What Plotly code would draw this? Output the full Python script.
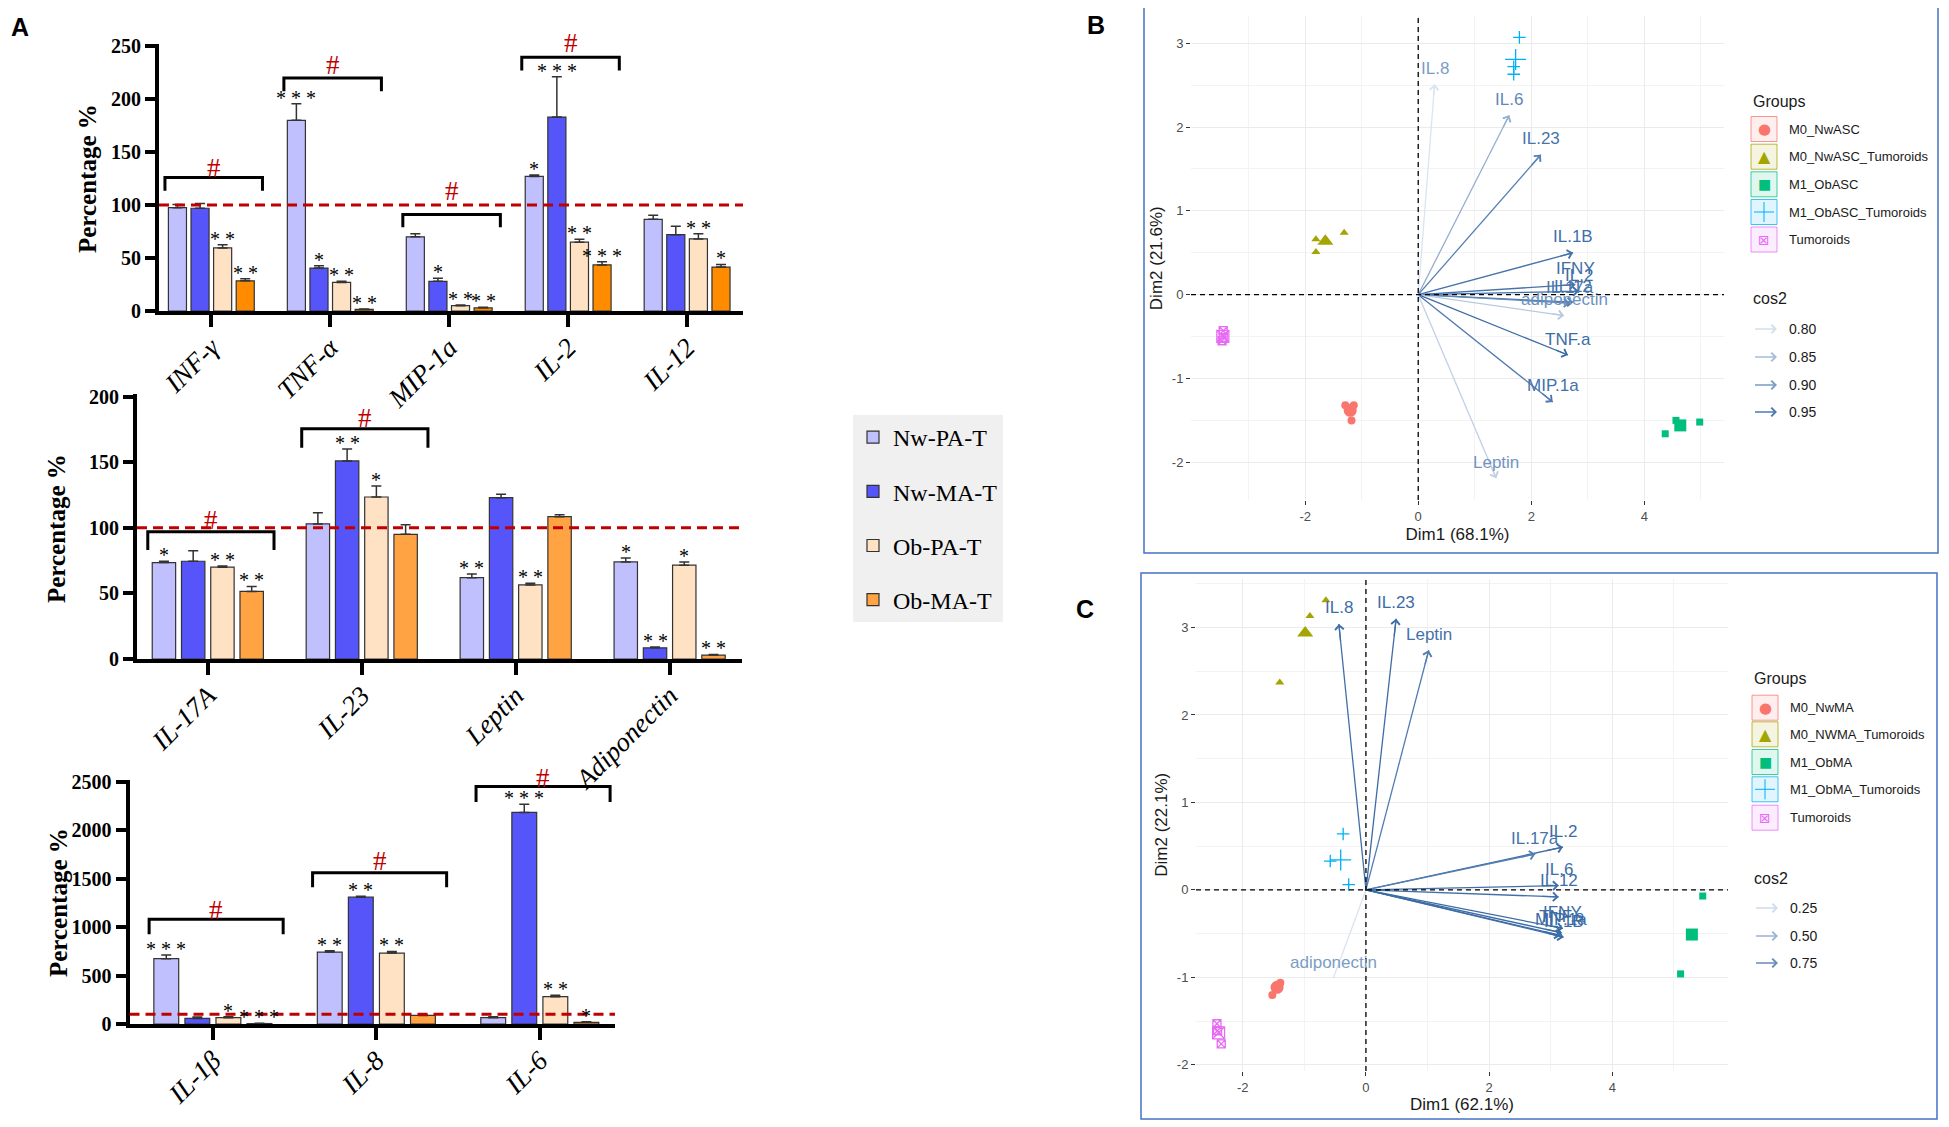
import numpy as np
import plotly.graph_objects as go

W, H = 1949, 1127
OFF = 8                      # the page body adds an 8px margin around the figure
FW, FH = W - OFF, H - OFF
SERIF = "Liberation Serif"
SANS = "Liberation Sans"


def px(x):
    return (x - OFF) / FW


def py(y):
    return 1 - (y - OFF) / FH


# ============================ Panel A data ============================
series_names = ["Nw-PA-T", "Nw-MA-T", "Ob-PA-T", "Ob-MA-T"]

# --- A1 ---
a1_cats = ["INF-γ", "TNF-α", "MIP-1a", "IL-2", "IL-12"]
a1_nw_pa = [97.5, 180.0, 70.0, 127.0, 86.5]
a1_nw_ma = [97.0, 40.5, 28.0, 183.0, 72.0]
a1_ob_pa = [59.5, 27.0, 5.0, 65.0, 68.0]
a1_ob_ma = [28.5, 1.5, 3.0, 43.5, 41.5]
a1_err_nw_pa = [3.0, 15.5, 2.8, 1.3, 3.8]
a1_err_nw_ma = [4.5, 2.2, 3.0, 38.0, 8.0]
a1_err_ob_pa = [3.0, 1.0, 0.6, 2.8, 4.8]
a1_err_ob_ma = [2.0, 0.4, 0.6, 3.0, 2.5]
a1_stars_nw_pa = ["", "***", "", "*", ""]
a1_stars_nw_ma = ["", "*", "*", "***", ""]
a1_stars_ob_pa = ["**", "**", "**", "**", "**"]
a1_stars_ob_ma = ["**", "**", "**", "***", "*"]
a1_bracket_cat = [0, 1, 2, 3]
a1_bracket_top = [126, 220, 91, 239.5]
a1_bracket_leg = [113.5, 207.5, 79, 227]
a1_hash_y = [135, 232, 113, 253]

# --- A2 ---
a2_cats = ["IL-17A", "IL-23", "Leptin", "Adiponectin"]
a2_nw_pa = [73.5, 103.0, 62.0, 74.0]
a2_nw_ma = [74.5, 151.0, 123.0, 8.5]
a2_ob_pa = [70.0, 123.5, 56.5, 71.5]
a2_ob_ma = [51.5, 95.0, 108.5, 3.0]
a2_err_nw_pa = [1.0, 8.4, 2.8, 3.0]
a2_err_nw_ma = [8.0, 9.0, 2.5, 0.7]
a2_err_ob_pa = [0.8, 8.4, 1.3, 2.5]
a2_err_ob_ma = [3.8, 7.3, 1.5, 0.5]
a2_stars_nw_pa = ["*", "", "**", "*"]
a2_stars_nw_ma = ["", "**", "", "**"]
a2_stars_ob_pa = ["**", "*", "**", "*"]
a2_stars_ob_ma = ["**", "", "", "**"]
a2_bracket_cat = [0, 1]
a2_bracket_top = [97, 175.5]
a2_bracket_leg = [83, 161]
a2_hash_y = [106, 184]

# --- A3 ---
a3_cats = ["IL-1β", "IL-8", "IL-6"]
a3_nw_pa = [675.0, 743.0, 65.0]
a3_nw_ma = [58.0, 1310.0, 2185.0]
a3_ob_pa = [65.0, 733.0, 282.0]
a3_ob_ma = [5.0, 89.0, 17.0]
a3_err_nw_pa = [38.0, 14.0, 10.0]
a3_err_nw_ma = [14.0, 10.0, 85.0]
a3_err_ob_pa = [10.0, 17.0, 14.0]
a3_err_ob_ma = [2.0, 7.0, 7.0]
a3_stars_nw_pa = ["***", "**", ""]
a3_stars_nw_ma = ["", "**", "***"]
a3_stars_ob_pa = ["*", "**", "**"]
a3_stars_ob_ma = ["***", "", "*"]
a3_bracket_cat = [0, 1, 2]
a3_bracket_top = [1083, 1561, 2452]
a3_bracket_leg = [928, 1413, 2294]
a3_hash_y = [1176, 1682, 2545]

# ============================ Panel B data ============================
b_var_names = ["IL.8", "IL.6", "IL.23", "IL.1B", "IFNY", "IL.2", "IL.12", "IL.17a",
               "adiponectin", "TNF.a", "MIP.1a", "Leptin"]
b_var_x = [0.29, 1.61, 2.17, 2.74, 2.78, 2.84, 2.74, 2.68, 2.58, 2.65, 2.38, 1.38]
b_var_y = [2.51, 2.14, 1.67, 0.50, 0.12, 0.04, -0.09, -0.10, -0.25, -0.72, -1.28, -2.19]
b_var_cos2 = [0.79, 0.87, 0.94, 0.96, 0.96, 0.97, 0.95, 0.93, 0.83, 0.97, 0.95, 0.82]
b_groups = ["M0_NwASC", "M0_NwASC_Tumoroids", "M1_ObASC", "M1_ObASC_Tumoroids", "Tumoroids"]
b_ind_x = [[-1.29, -1.14, -1.18], [-1.81, -1.81, -1.31], [4.37, 4.56, 4.98],
           [1.79, 1.69, 1.69], [-3.45, -3.45, -3.47]]
b_ind_y = [[-1.32, -1.32, -1.50], [0.66, 0.51, 0.74], [-1.66, -1.50, -1.52],
           [3.07, 2.72, 2.63], [-0.43, -0.51, -0.55]]
b_cos2_legend = [0.80, 0.85, 0.90, 0.95]

# ============================ Panel C data ============================
c_var_names = ["IL.8", "IL.23", "Leptin", "IL.2", "IL.17a", "IL.6", "IL.12", "IFNY",
               "TNF.a", "MIP.1a", "IL.1B", "adiponectin"]
c_var_x = [-0.44, 0.49, 1.02, 3.20, 2.75, 3.13, 3.13, 3.20, 3.18, 3.16, 3.21, -0.53]
c_var_y = [3.04, 3.10, 2.74, 0.49, 0.41, 0.05, -0.08, -0.44, -0.49, -0.52, -0.54, -1.01]
c_var_cos2 = [0.93, 0.95, 0.85, 0.97, 0.84, 0.93, 0.93, 0.96, 0.96, 0.96, 0.97, 0.20]
c_groups = ["M0_NwMA", "M0_NWMA_Tumoroids", "M1_ObMA", "M1_ObMA_Tumoroids", "Tumoroids"]
c_ind_x = [[-1.42, -1.52, -1.39], [-0.65, -0.91, -1.40], [5.47, 5.30, 5.11],
           [-0.37, -0.58, -0.28], [-2.42, -2.41, -2.35]]
c_ind_y = [[-1.08, -1.20, -1.06], [3.31, 3.13, 2.37], [-0.07, -0.50, -0.96],
           [0.64, 0.33, 0.06], [-1.53, -1.61, -1.76]]
c_cos2_legend = [0.25, 0.50, 0.75]

# ============================ styles ============================
COL_NW_PA = "#C0C0FF"
COL_NW_MA = "#5555F9"
COL_OB_PA = "#FFE1C3"
COL_OB_MA_TOP = "#FF8C00"
COL_OB_MA = "#FFA343"
RED = "#C00000"
GROUP_COLORS = ["#F8766D", "#A3A500", "#00BF7D", "#00B0F6", "#E76BF3"]
GROUP_SYMBOLS = ["circle", "triangle-up", "square", "cross-thin-open", "square-x-open"]
IND_SIZES = [8, 8, 7, 9, 8]
MEAN_SIZES = [13, 14, 12, 15, 12]

BARGAP, BARGROUPGAP = 0.24, 0.2
SLOT = (1 - BARGAP) / 4

# bar panel geometry (pixel rows of 0 and top of the value axis, value-axis max)
A_GEOM = {1: (311, 44, 252), 2: (659, 394, 202), 3: (1024, 780, 2520)}

fig = go.Figure()
annotations = []
shapes = []


def rgba(hexcol, a):
    h = hexcol.lstrip("#")
    r, g, b = int(h[0:2], 16), int(h[2:4], 16), int(h[4:6], 16)
    return f"rgba({r},{g},{b},{a})"


def blend(t):
    t = min(max(t, 0.0), 1.0)
    lo = (0xE3, 0xEC, 0xF6)
    hi = (0x3C, 0x6C, 0xA6)
    return "rgb(%d,%d,%d)" % tuple(round(a + (b - a) * t) for a, b in zip(lo, hi))


def spaced(s):
    return " ".join(list(s))


def bar_panel(k, cats, vals, errs, stars, bcat, btop, bleg, bhash, colors, show_legend):
    xa = "x" if k == 1 else f"x{k}"
    ya = "y" if k == 1 else f"y{k}"
    ybot, ytop, ymax = A_GEOM[k]
    ppu = (ybot - ytop) / ymax          # pixels per value unit
    xs = list(range(len(cats)))
    for i, name in enumerate(series_names):
        fig.add_trace(go.Bar(
            x=xs, y=vals[i], name=name, xaxis=xa, yaxis=ya,
            marker=dict(color=colors[i], line=dict(color="#333333", width=1.2)),
            error_y=dict(type="data", symmetric=False, array=errs[i],
                         arrayminus=[0] * len(xs), color="#333333", thickness=1.5, width=5),
            showlegend=show_legend, legendgroup=(name if show_legend else None),
            hoverinfo="x+y"))
        for j, s in enumerate(stars[i]):
            if s:
                annotations.append(dict(
                    x=xs[j] - (1 - BARGAP) / 2 + SLOT * (i + 0.5), y=vals[i][j] + errs[i][j],
                    xref=xa, yref=ya, text=spaced(s), showarrow=False, yanchor="bottom", yshift=-7,
                    font=dict(family=SERIF, size=20, color="black")))
    for c, t, l, hsh in zip(bcat, btop, bleg, bhash):
        shapes.append(dict(type="path", xref=xa, yref=ya,
                           path=f"M {c - 0.39},{l} L {c - 0.39},{t} L {c + 0.43},{t} L {c + 0.43},{l}",
                           line=dict(color="black", width=3)))
        yv = min(hsh, ymax)
        annotations.append(dict(x=c + 0.02, y=yv, xref=xa, yref=ya, text="#", showarrow=False,
                                yanchor="middle", yshift=(hsh - yv) * ppu,
                                font=dict(family=SERIF, size=27, color=RED)))
    shapes.append(dict(type="line", xref=f"{xa} domain", yref=ya, x0=0, x1=1, y0=100, y1=100,
                       line=dict(color=RED, width=3, dash="10px,6px")))


bar_panel(1, a1_cats,
          [a1_nw_pa, a1_nw_ma, a1_ob_pa, a1_ob_ma],
          [a1_err_nw_pa, a1_err_nw_ma, a1_err_ob_pa, a1_err_ob_ma],
          [a1_stars_nw_pa, a1_stars_nw_ma, a1_stars_ob_pa, a1_stars_ob_ma],
          a1_bracket_cat, a1_bracket_top, a1_bracket_leg, a1_hash_y,
          [COL_NW_PA, COL_NW_MA, COL_OB_PA, COL_OB_MA_TOP], False)
bar_panel(2, a2_cats,
          [a2_nw_pa, a2_nw_ma, a2_ob_pa, a2_ob_ma],
          [a2_err_nw_pa, a2_err_nw_ma, a2_err_ob_pa, a2_err_ob_ma],
          [a2_stars_nw_pa, a2_stars_nw_ma, a2_stars_ob_pa, a2_stars_ob_ma],
          a2_bracket_cat, a2_bracket_top, a2_bracket_leg, a2_hash_y,
          [COL_NW_PA, COL_NW_MA, COL_OB_PA, COL_OB_MA], True)
bar_panel(3, a3_cats,
          [a3_nw_pa, a3_nw_ma, a3_ob_pa, a3_ob_ma],
          [a3_err_nw_pa, a3_err_nw_ma, a3_err_ob_pa, a3_err_ob_ma],
          [a3_stars_nw_pa, a3_stars_nw_ma, a3_stars_ob_pa, a3_stars_ob_ma],
          a3_bracket_cat, a3_bracket_top, a3_bracket_leg, a3_hash_y,
          [COL_NW_PA, COL_NW_MA, COL_OB_PA, COL_OB_MA], False)


def a_xaxis(cats, x0, x1, xr, anchor):
    return dict(domain=[px(x0), px(x1)], range=xr, anchor=anchor,
                tickmode="array", tickvals=list(range(len(cats))), ticktext=cats,
                tickangle=-45, tickfont=dict(family=SERIF, size=27, style="italic", color="black"),
                ticks="outside", ticklen=12, tickwidth=4, tickcolor="black",
                ticklabelstandoff=-6,
                showline=True, linewidth=4, linecolor="black",
                showgrid=False, zeroline=False, automargin=False)


def a_yaxis(k, dtick, anchor):
    ybot, ytop, ymax = A_GEOM[k]
    return dict(domain=[py(ybot), py(ytop)], range=[0, ymax], anchor=anchor,
                tickmode="linear", tick0=0, dtick=dtick,
                tickfont=dict(family=SERIF, size=20, weight="bold", color="black"),
                ticks="outside", ticklen=10, tickwidth=4, tickcolor="black",
                showline=True, linewidth=4, linecolor="black",
                showgrid=False, zeroline=False, automargin=False)


for xx, yy in [(87, 179), (57, 529), (58, 903)]:
    annotations.append(dict(xref="paper", yref="paper", x=px(xx), y=py(yy), text="Percentage %",
                            textangle=-90, showarrow=False, xanchor="center", yanchor="middle",
                            font=dict(family=SERIF, size=25, weight="bold", color="black")))


# ============================ PCA panels ============================
def pca_panel(k, vnames, vx, vy, vcos, lo, hi, ind_x, ind_y, gnames):
    xa, ya = f"x{k}", f"y{k}"
    shapes.append(dict(type="line", xref=xa, yref=f"{ya} domain", x0=0, x1=0, y0=0, y1=1,
                       line=dict(color="black", width=1.3, dash="5px,4px")))
    shapes.append(dict(type="line", xref=f"{xa} domain", yref=ya, x0=0, x1=1, y0=0, y1=0,
                       line=dict(color="black", width=1.3, dash="5px,4px")))
    for g, gname in enumerate(gnames):
        col = GROUP_COLORS[g]
        sym = GROUP_SYMBOLS[g]
        open_sym = sym.endswith("open")
        mk = dict(symbol=sym, size=IND_SIZES[g], color=col,
                  line=dict(color=col, width=1.3 if open_sym else 0))
        fig.add_trace(go.Scatter(x=ind_x[g], y=ind_y[g], mode="markers", name=gname,
                                 marker=mk, xaxis=xa, yaxis=ya, showlegend=False))
        mk2 = dict(mk)
        mk2["size"] = MEAN_SIZES[g]
        fig.add_trace(go.Scatter(x=[float(np.mean(ind_x[g]))], y=[float(np.mean(ind_y[g]))],
                                 mode="markers", name=gname + " mean", marker=mk2,
                                 xaxis=xa, yaxis=ya, showlegend=False))
    for name, x, y, c in zip(vnames, vx, vy, vcos):
        t = (c - lo) / (hi - lo)
        col = blend(t)
        fig.add_trace(go.Scatter(x=[0, x], y=[0, y], mode="lines", name=name,
                                 line=dict(color=col, width=1.3), xaxis=xa, yaxis=ya,
                                 showlegend=False, hoverinfo="name"))
        annotations.append(dict(x=x, y=y, ax=0.9 * x, ay=0.9 * y, xref=xa, yref=ya,
                                axref=xa, ayref=ya, text=" ", showarrow=True, arrowhead=4,
                                arrowsize=1.3, arrowwidth=1.3, arrowcolor=col, standoff=0))
        annotations.append(dict(x=x, y=y, xref=xa, yref=ya, text=name, showarrow=False,
                                yshift=16, font=dict(family=SANS, size=17,
                                                     color=blend(0.6 + 0.4 * t))))


pca_panel(4, b_var_names, b_var_x, b_var_y, b_var_cos2, 0.78, 0.97, b_ind_x, b_ind_y, b_groups)
pca_panel(5, c_var_names, c_var_x, c_var_y, c_var_cos2, 0.15, 0.95, c_ind_x, c_ind_y, c_groups)


def pca_axis(xr, majors, minors, title, anchor, standoff, dom):
    return dict(domain=dom, range=xr, anchor=anchor, tickmode="array", tickvals=majors,
                ticktext=[f"{v:g}" for v in majors],
                ticks="outside", ticklen=4, tickwidth=1, tickcolor="#333333",
                tickfont=dict(family=SANS, size=13, color="#4D4D4D"),
                showgrid=True, gridcolor="#EBEBEB", gridwidth=1,
                minor=dict(tickvals=minors, showgrid=True, gridcolor="#F3F3F3", gridwidth=1, ticks=""),
                zeroline=False, showline=False, automargin=False,
                title=dict(text=title, standoff=standoff,
                           font=dict(family=SANS, size=17, color="#1A1A1A")))


def group_legend(x_left, title_y, row_ys, names, cos_title_y, cos_ys, cos_vals, lo, hi):
    annotations.append(dict(xref="paper", yref="paper", x=px(x_left), y=py(title_y), text="Groups",
                            showarrow=False, xanchor="left", yanchor="middle",
                            font=dict(family=SANS, size=16, color="#1A1A1A")))
    glyphs = ["●", "▲", "■", None, "⊠"]
    gsizes = [15, 16, 14, 0, 14]
    for g, (yy, name) in enumerate(zip(row_ys, names)):
        col = GROUP_COLORS[g]
        cx = x_left + 13
        shapes.append(dict(type="rect", xref="paper", yref="paper",
                           x0=px(x_left), x1=px(x_left + 26), y0=py(yy + 12.5), y1=py(yy - 12.5),
                           line=dict(color=rgba(col, 0.75), width=1), fillcolor=rgba(col, 0.12)))
        if glyphs[g] is None:
            shapes.append(dict(type="line", xref="paper", yref="paper", x0=px(cx - 10), x1=px(cx + 10),
                               y0=py(yy), y1=py(yy), line=dict(color=col, width=1)))
            shapes.append(dict(type="line", xref="paper", yref="paper", x0=px(cx), x1=px(cx),
                               y0=py(yy - 10), y1=py(yy + 10), line=dict(color=col, width=1)))
        else:
            annotations.append(dict(xref="paper", yref="paper", x=px(cx), y=py(yy), text=glyphs[g],
                                    showarrow=False, xanchor="center", yanchor="middle",
                                    font=dict(family="DejaVu Sans", size=gsizes[g], color=col)))
        annotations.append(dict(xref="paper", yref="paper", x=px(x_left + 36), y=py(yy), text=name,
                                showarrow=False, xanchor="left", yanchor="middle",
                                font=dict(family=SANS, size=13, color="#1A1A1A")))
    annotations.append(dict(xref="paper", yref="paper", x=px(x_left), y=py(cos_title_y), text="cos2",
                            showarrow=False, xanchor="left", yanchor="middle",
                            font=dict(family=SANS, size=16, color="#1A1A1A")))
    for yy, v in zip(cos_ys, cos_vals):
        col = blend((v - lo) / (hi - lo))
        annotations.append(dict(xref="paper", yref="paper", x=px(x_left + 26), y=py(yy),
                                ax=-25, ay=0, text=" ", showarrow=True, arrowhead=4, arrowsize=1.3,
                                arrowwidth=1.3, arrowcolor=col, standoff=0))
        annotations.append(dict(xref="paper", yref="paper", x=px(x_left + 36), y=py(yy), text=f"{v:.2f}",
                                showarrow=False, xanchor="left", yanchor="middle",
                                font=dict(family=SANS, size=14, color="#1A1A1A")))


group_legend(1751, 101, [129, 156.7, 184.3, 212, 239.5], b_groups, 299,
             [329, 357, 385, 412], b_cos2_legend, 0.78, 0.97)
group_legend(1752, 678, [707.7, 734.3, 762, 789.3, 817.7], c_groups, 878,
             [908, 936, 963], c_cos2_legend, 0.15, 0.95)

# panel borders
shapes.append(dict(type="rect", xref="paper", yref="paper", x0=px(1144), x1=px(1938),
                   y0=py(553), y1=py(6), line=dict(color="#4472C4", width=1.5)))
shapes.append(dict(type="rect", xref="paper", yref="paper", x0=px(1141), x1=px(1937),
                   y0=py(1119), y1=py(573), line=dict(color="#4472C4", width=1.5)))

# panel letters
for letter, xx, yy in [("A", 9, 27), ("B", 1085, 25), ("C", 1074, 609)]:
    annotations.append(dict(xref="paper", yref="paper", x=px(xx), y=py(yy), text=letter,
                            showarrow=False, xanchor="left", yanchor="middle",
                            font=dict(family=SANS, size=25, weight="bold", color="black")))

fig.update_layout(
    width=FW, height=FH, margin=dict(l=0, r=0, t=0, b=0),
    paper_bgcolor="white", plot_bgcolor="white",
    barmode="group", bargap=BARGAP, bargroupgap=BARGROUPGAP,
    showlegend=True,
    legend=dict(x=px(853), y=py(415), xanchor="left", yanchor="top", bgcolor="#F0F0F0",
                borderwidth=0, font=dict(family=SERIF, size=24, color="black"),
                tracegroupgap=20, itemwidth=30, traceorder="grouped"),
    xaxis=a_xaxis(a1_cats, 159, 743, [-0.44, 4.47], "y"),
    yaxis=a_yaxis(1, 50, "x"),
    xaxis2=a_xaxis(a2_cats, 137, 742, [-0.46, 3.47], "y2"),
    yaxis2=a_yaxis(2, 50, "x2"),
    xaxis3=a_xaxis(a3_cats, 129.5, 615, [-0.51, 2.46], "y3"),
    yaxis3=a_yaxis(3, 500, "x3"),
    xaxis4=pca_axis([-4.02, 5.41], [-2, 0, 2, 4], [-3, -1, 1, 3, 5], "Dim1 (68.1%)", "y4", 5,
                    [px(1191), px(1724)]),
    yaxis4=pca_axis([-2.45, 3.32], [-2, -1, 0, 1, 2, 3], [-1.5, -0.5, 0.5, 1.5, 2.5],
                    "Dim2 (21.6%)", "x4", 4, [py(500), py(16.4)]),
    xaxis5=pca_axis([-2.76, 5.88], [-2, 0, 2, 4], [-1, 1, 3, 5], "Dim1 (62.1%)", "y5", 2,
                    [px(1196), px(1728)]),
    yaxis5=pca_axis([-2.07, 3.56], [-2, -1, 0, 1, 2, 3], [-1.5, -0.5, 0.5, 1.5, 2.5, 3.5],
                    "Dim2 (22.1%)", "x5", 4, [py(1071), py(578.5)]),
    annotations=annotations, shapes=shapes,
    hovermode="closest",
)

fig.write_html("out.html")
